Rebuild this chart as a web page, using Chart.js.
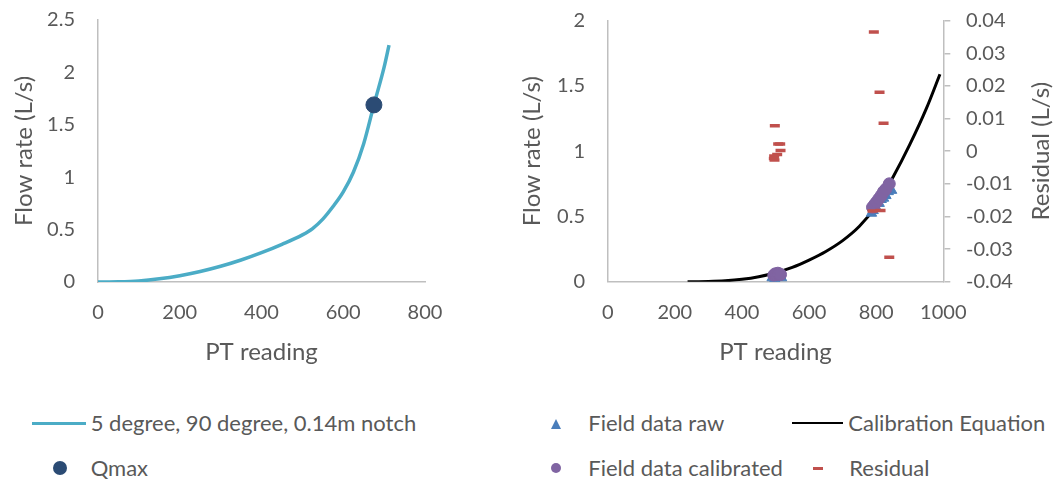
<!DOCTYPE html>
<html>
<head>
<meta charset="utf-8">
<script src="https://cdn.jsdelivr.net/npm/chart.js@4.4.1/dist/chart.umd.min.js"></script>
<style>
  body { margin: 0; background: #fff; }
  #wrap { position: relative; width: 1056px; height: 483px; overflow: hidden; font-family: Lato, sans-serif; color: #595959; }
  #left { position: absolute; left: 0; top: 0; }
  #right { position: absolute; left: 515px; top: 0; }
  .lg { position: absolute; font-size: 22px; line-height: 26px; white-space: nowrap; }
  .sym { position: absolute; }
</style>
</head>
<body>
<div id="wrap">
  <canvas id="left" width="515" height="395"></canvas>
  <canvas id="right" width="541" height="395"></canvas>
  <div id="legend"></div>
</div>
<script>
// theoretical rating curve for the notch
const notchPT   = [0, 50, 100, 150, 200, 250, 300, 350, 400, 450, 500, 525, 550, 575, 600, 625, 650, 675, 700, 712];
const notchFlow = [0, 0.002, 0.01, 0.03, 0.06, 0.1, 0.15, 0.21, 0.28, 0.36, 0.45, 0.51, 0.6, 0.72, 0.86, 1.05, 1.32, 1.69, 2.05, 2.26];
const qmaxPT = [675];
const qmaxFlow = [1.69];

// calibration equation
const calibPT   = [238, 300, 350, 400, 450, 500, 550, 600, 650, 700, 750, 800, 850, 900, 950, 990];
const calibFlow = [0, 0.002, 0.007, 0.018, 0.038, 0.069, 0.11, 0.166, 0.232, 0.315, 0.425, 0.58, 0.8, 1.05, 1.33, 1.59];

// field data
const rawPT   = [490, 494, 498, 502, 506, 510, 514, 518, 786, 791, 797, 803, 809, 815, 822, 829, 836, 846];
const rawFlow = [0.03, 0.045, 0.02, 0.05, 0.035, 0.055, 0.045, 0.03, 0.525, 0.545, 0.58, 0.61, 0.6, 0.63, 0.64, 0.66, 0.69, 0.70];
const calPT   = [495, 499, 503, 507, 511, 515, 789, 795, 801, 808, 815, 822, 829, 839];
const calFlow = [0.05, 0.06, 0.055, 0.065, 0.06, 0.055, 0.57, 0.59, 0.61, 0.635, 0.66, 0.69, 0.71, 0.75];
const resPT   = [498, 508, 514, 515, 505, 496, 495, 497, 793, 810, 822, 789, 813, 839];
const resVal  = [0.0078, 0.0022, 0.0022, 0.0002, -0.001, -0.0015, -0.0022, -0.0027, 0.0365, 0.0181, 0.0086, -0.0183, -0.0182, -0.0325];

const TXT = '#595959';
const AXIS = '#BFBFBF';
const FONT = 'Lato';

function pts(xs, ys) {
  return xs.map((x, i) => ({ x: x, y: ys[i] }));
}
function fmt(v) {
  const n = Number(v.toFixed(3));
  return n === 0 ? '0' : String(n);
}

const notchSet = {
  label: '5 degree, 90 degree, 0.14m notch',
  data: pts(notchPT, notchFlow),
  showLine: true, borderColor: '#4BACC6', borderWidth: 3.5,
  pointRadius: 0, cubicInterpolationMode: 'monotone', order: 2
};
const qmaxSet = {
  label: 'Qmax',
  data: pts(qmaxPT, qmaxFlow),
  pointRadius: 8, backgroundColor: '#2B4B74', borderColor: '#2B4B74', order: 1
};
const rawSet = {
  label: 'Field data raw',
  data: pts(rawPT, rawFlow),
  pointStyle: 'triangle', pointRadius: 6, backgroundColor: '#4A7EBB', borderColor: '#4A7EBB', order: 3
};
const calibSet = {
  label: 'Calibration Equation',
  data: pts(calibPT, calibFlow),
  showLine: true, borderColor: '#000', borderWidth: 3,
  pointRadius: 0, cubicInterpolationMode: 'monotone', order: 4
};
const calSet = {
  label: 'Field data calibrated',
  data: pts(calPT, calFlow),
  pointRadius: 6, backgroundColor: '#8064A2', borderColor: '#8064A2', order: 2
};
const resSet = {
  label: 'Residual',
  data: pts(resPT, resVal),
  yAxisID: 'y1',
  pointStyle: 'line', pointRadius: 5, borderWidth: 3.5, borderColor: '#C0504D', backgroundColor: '#C0504D', order: 1
};

function tickFont() { return { family: FONT, size: 20 }; }
function titleFont() { return { family: FONT, size: 24 }; }

// fixed axis box sizes; label overhang must not push the plot area in
function fixWidth(w) {
  return s => { s.width = w; s.paddingTop = 0; s.paddingBottom = 0; };
}

function xAxis(max, h) {
  return {
    type: 'linear', min: 0, max: max,
    ticks: { stepSize: 200, color: TXT, font: tickFont(), padding: 19, callback: v => String(v) },
    grid: { display: false, drawTicks: false },
    border: { display: true, color: AXIS, width: 1.5 },
    title: { display: true, text: 'PT reading', color: TXT, font: titleFont(), padding: { bottom: 28.6 } },
    afterFit: s => { s.height = h; }
  };
}
function flowAxis(max, w, tpad, lpad) {
  return {
    type: 'linear', position: 'left', min: 0, max: max,
    ticks: { stepSize: 0.5, color: TXT, font: tickFont(), padding: lpad, callback: fmt },
    grid: { display: false, drawTicks: false },
    border: { display: true, color: AXIS, width: 1.5 },
    title: { display: true, text: 'Flow rate (L/s)', color: TXT, font: titleFont(), padding: { top: tpad } },
    afterFit: fixWidth(w)
  };
}

new Chart(document.getElementById('left'), {
  type: 'scatter',
  data: { datasets: [notchSet, qmaxSet] },
  options: {
    responsive: false, animation: false,
    layout: { padding: { top: 20, right: 90, left: 0, bottom: 0 } },
    plugins: { legend: { display: false }, tooltip: { enabled: false } },
    scales: { x: xAxis(800, 113), y: flowAxis(2.5, 98, 9.6, 23) }
  }
});

// right-hand axis title reads bottom to top
const sideTitle = {
  id: 'sideTitle',
  afterDraw(chart) {
    const ctx = chart.ctx, a = chart.chartArea;
    ctx.save();
    ctx.translate(526.7, (a.top + a.bottom) / 2);
    ctx.rotate(-Math.PI / 2);
    ctx.font = '24px ' + FONT;
    ctx.fillStyle = TXT;
    ctx.textAlign = 'center';
    ctx.textBaseline = 'middle';
    ctx.fillText('Residual (L/s)', 0, 0);
    ctx.restore();
  }
};

new Chart(document.getElementById('right'), {
  type: 'scatter',
  data: { datasets: [rawSet, calibSet, calSet, resSet] },
  options: {
    responsive: false, animation: false,
    layout: { padding: { top: 20.7, right: 0, left: 0, bottom: 0 } },
    plugins: { legend: { display: false }, tooltip: { enabled: false } },
    scales: {
      x: xAxis(1000, 113.3),
      y: flowAxis(2, 92.7, 2.6, 22.7),
      y1: {
        type: 'linear', position: 'right', min: -0.04, max: 0.04,
        ticks: { stepSize: 0.01, color: TXT, font: tickFont(), padding: 15.7, callback: fmt },
        grid: { display: true, drawOnChartArea: false, drawTicks: true, tickLength: 7, color: AXIS, lineWidth: 1.5 },
        border: { display: true, color: AXIS, width: 1.5 },
        title: { display: false },
        afterFit: fixWidth(112.7)
      }
    }
  },
  plugins: [sideTitle]
});

// legend rows under both charts
const legend = document.getElementById('legend');
function add(html) { legend.insertAdjacentHTML('beforeend', html); }
function label(text, x, cy) { add(`<div class="lg" style="left:${x}px;top:${cy - 13}px">${text}</div>`); }
function lineSym(color, x1, x2, cy, h) {
  add(`<div class="sym" style="left:${x1}px;top:${cy - h / 2}px;width:${x2 - x1}px;height:${h}px;background:${color}"></div>`);
}
function dotSym(color, cx, cy, r) {
  add(`<div class="sym" style="left:${cx - r}px;top:${cy - r}px;width:${2 * r}px;height:${2 * r}px;border-radius:50%;background:${color}"></div>`);
}
function triSym(color, cx, cy, r) {
  add(`<svg class="sym" style="left:${cx - r}px;top:${cy - r}px" width="${2 * r}" height="${2 * r}"><polygon points="${r},0 ${2 * r},${2 * r} 0,${2 * r}" fill="${color}"/></svg>`);
}

lineSym(notchSet.borderColor, 32, 86, 423, 3);
label(notchSet.label, 90.7, 423);
dotSym(qmaxSet.backgroundColor, 60, 468, 7);
label(qmaxSet.label, 90.7, 468);

triSym(rawSet.backgroundColor, 556, 424, 5);
label(rawSet.label, 588.3, 423);
lineSym(calibSet.borderColor, 791.7, 843.3, 423, 2.5);
label(calibSet.label, 848.3, 423);
dotSym(calSet.backgroundColor, 556, 468, 5);
label(calSet.label, 588.3, 468);
lineSym(resSet.borderColor, 812.7, 822.7, 468, 3);
label(resSet.label, 849.3, 468);
</script>
</body>
</html>
